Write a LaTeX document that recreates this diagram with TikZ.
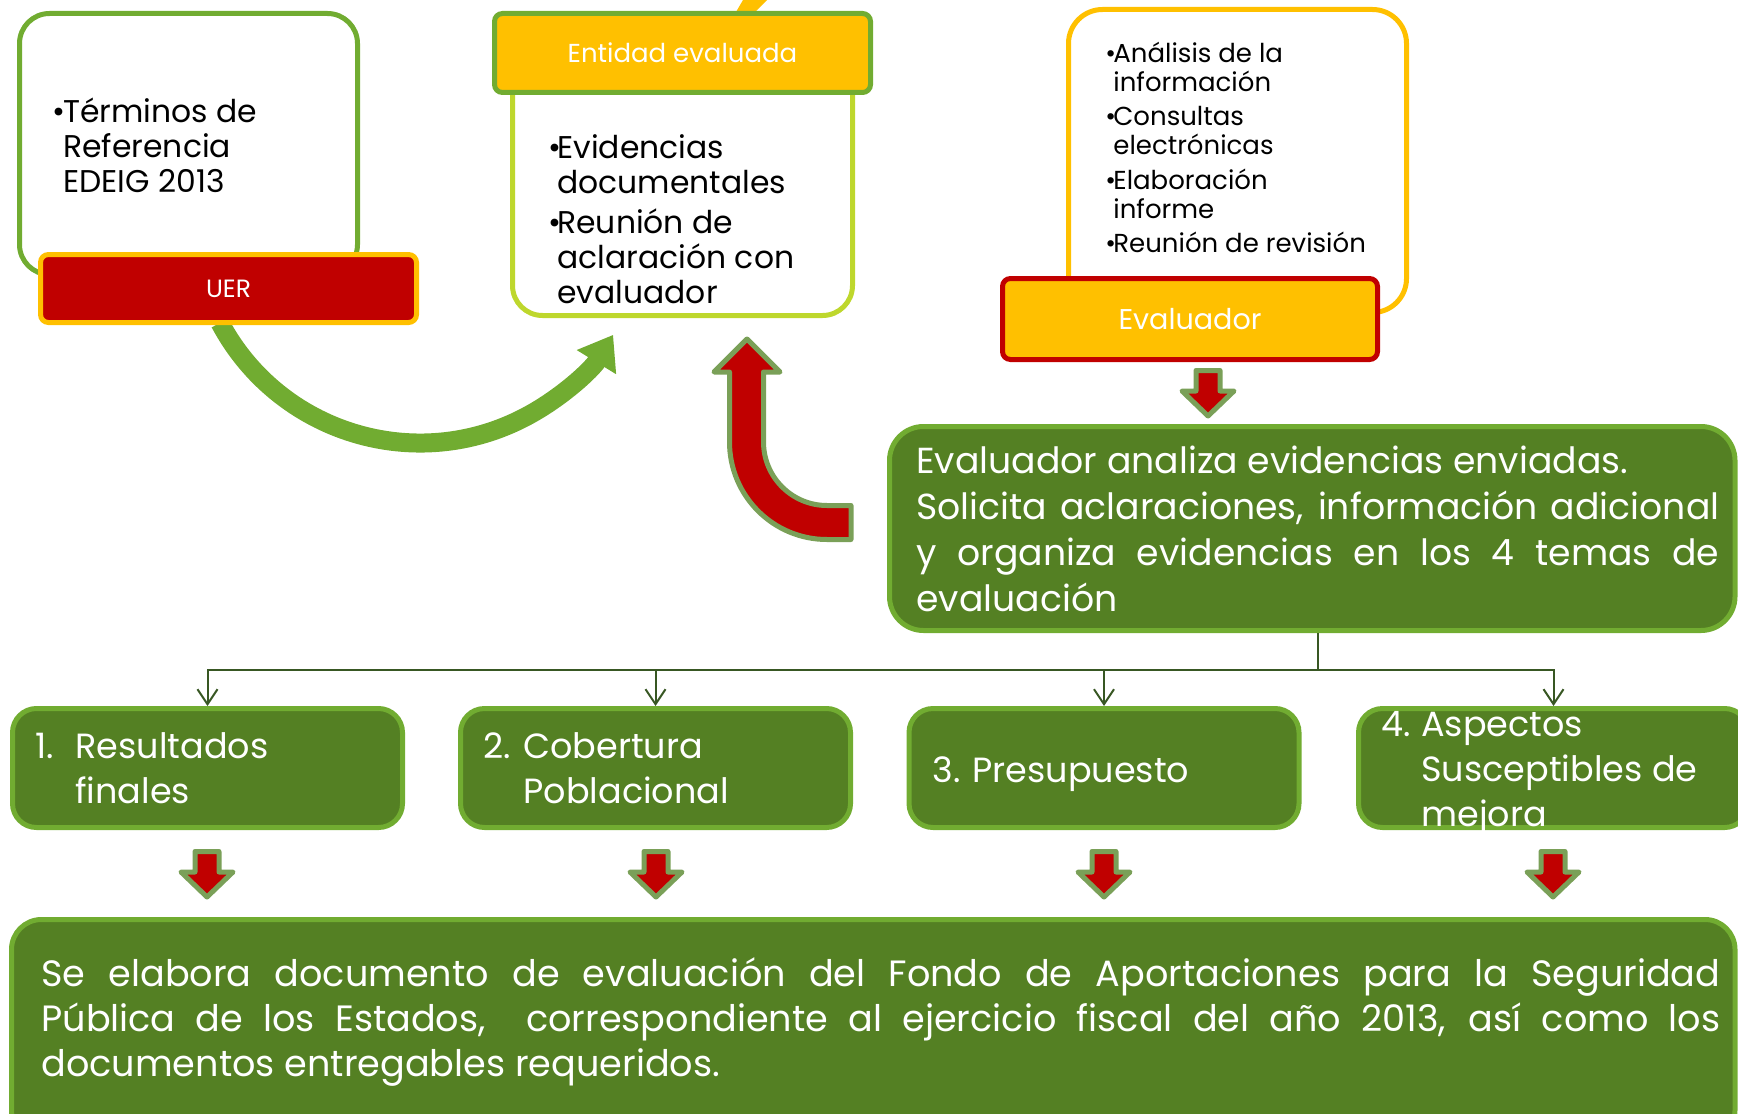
\documentclass[tikz,border=0pt]{standalone}
\usepackage{fontspec}
\setmainfont{Poppins}
\usetikzlibrary{arrows.meta}

\definecolor{lgreen}{RGB}{113,172,49}
\definecolor{dgreen}{RGB}{84,128,35}
\definecolor{ured}{RGB}{192,0,0}
\definecolor{uyellow}{RGB}{255,192,0}
\definecolor{lime}{RGB}{190,215,45}
\definecolor{arrline}{RGB}{122,160,88}
\definecolor{connline}{RGB}{56,87,35}

\hyphenpenalty=10000
\exhyphenpenalty=10000

\tikzset{
  whitebox/.style={draw, fill=white, line width=2.5pt, rounded corners=15pt, inner sep=0pt},
  tagbox/.style={draw, line width=2.5pt, rounded corners=4pt, text=white, inner sep=0pt},
  greenbox/.style={draw=lgreen, fill=dgreen, line width=2.5pt, rounded corners=17pt, inner sep=0pt},
  blockarrow/.style={fill=ured, draw=arrline, line width=2.5pt, line join=round},
  conn/.style={draw=connline, line width=1pt, -{Straight Barb[length=7.5pt,width=10pt]}},
  txt/.style={inner sep=0pt, anchor=base west},
  themetxt/.style={txt, text=white, font=\fontsize{17.5}{22.5}\selectfont}
}

\begin{document}
\begin{tikzpicture}[x=0.5pt,y=-0.5pt]
\useasboundingbox (0,0) rectangle (1738,1113);
\clip (0,0) rectangle (1738,1113);

% top row
\fill[uyellow] (743,0) -- (767,0) -- (755,12) -- (736,12) -- cycle;
\node[whitebox, draw=lgreen, minimum width=169pt, minimum height=130.5pt] (term) at (188.5,144) {};
\node[txt, font=\fontsize{15.7}{17.5}\selectfont] (term-t) at (52,122)
  {\begin{tabular}[t]{@{}p{5.5pt}@{}l@{}}\textbullet & Términos de\\ & Referencia\\ & EDEIG 2013\end{tabular}};
\draw[lgreen, line width=9.5pt, -{Triangle[length=16pt,width=22pt]}]
  (420,216.5) ++(152:226.5) arc[start angle=152, end angle=31.5, radius=226.5];
\node[tagbox, fill=ured, draw=uyellow, minimum width=188pt, minimum height=34pt,
  font=\fontsize{12.5}{14}\selectfont] (uer) at (228.5,288.5) {UER};

\node[whitebox, draw=lime, minimum width=170pt, minimum height=127.75pt] (ebody) at (682.5,187.75) {};
\node[tagbox, fill=uyellow, draw=lgreen, minimum width=188pt, minimum height=39.5pt,
  font=\fontsize{13}{15}\selectfont] (ehead) at (682.5,53) {Entidad evaluada};
\node[txt, font=\fontsize{15.7}{17.5}\selectfont] (ebody-t) at (548,158)
  {\begin{tabular}[t]{@{}p{4.5pt}@{}l@{}}\textbullet & Evidencias\\ & documentales\\[2.5pt]
   \textbullet & Reunión de\\ & aclaración con\\ & evaluador\end{tabular}};

\node[whitebox, draw=uyellow, rounded corners=17pt, minimum width=169pt, minimum height=151.5pt] (tasks) at (1237.5,161) {};
\node[txt, font=\fontsize{13}{14}\selectfont] (tasks-t) at (1105,63)
  {\begin{tabular}[t]{@{}p{4pt}@{}l@{}}\textbullet & Análisis de la\\ & información\\[3pt]
   \textbullet & Consultas\\ & electrónicas\\[3pt]
   \textbullet & Elaboración\\ & informe\\[3pt]
   \textbullet & Reunión de revisión\end{tabular}};
\node[tagbox, fill=uyellow, draw=ured, minimum width=187.5pt, minimum height=40.5pt,
  font=\fontsize{14.3}{16}\selectfont] (evhead) at (1190,319) {Evaluador};

% block arrows
\draw[blockarrow] (851,505.5) -- (827,505.5) arc[start angle=90, end angle=180, radius=63.5]
  -- (763.5,372) -- (780,372) -- (747,339) -- (714,372) -- (729.5,372) -- (729.5,442)
  arc[start angle=180, end angle=90, radius=97.5] -- (851,539.5) -- cycle;
\foreach \ax/\ay in {1208/368, 207/849, 656/849, 1104/849, 1553/849}
{
\draw[blockarrow] (\ax-12,\ay+2.5) -- (\ax+12,\ay+2.5) -- (\ax+12,\ay+23) -- (\ax+26,\ay+23)
  -- (\ax,\ay+48) -- (\ax-26,\ay+23) -- (\ax-12,\ay+23) -- cycle;
}

% analysis
\node[greenbox, minimum width=422.75pt, minimum height=102pt] (analiza) at (1312.25,528.5) {};
\node[txt, text=white, font=\fontsize{18.1}{23}\selectfont] (analiza-t) at (916,473)
  {\begin{tabular}[t]{@{}p{401.5pt}@{}}Evaluador analiza evidencias enviadas.\par
   Solicita aclaraciones, información adicional\linebreak y organiza evidencias en los 4 temas de\linebreak evaluación\end{tabular}};

% themes
\foreach \i/\cx in {1/207.5, 2/655.5, 3/1104, 4/1553.5}
{
\node[greenbox, rounded corners=12pt, minimum width=195pt, minimum height=59.5pt] (t\i) at (\cx,768) {};
}
\node[themetxt] (t1-t) at (35,758) {\begin{tabular}[t]{@{}p{20pt}@{}l@{}}1. & Resultados\\ & finales\end{tabular}};
\node[themetxt] (t2-t) at (483,758) {\begin{tabular}[t]{@{}p{20pt}@{}l@{}}2. & Cobertura\\ & Poblacional\end{tabular}};
\node[themetxt] (t3-t) at (932,782) {\begin{tabular}[t]{@{}p{20pt}@{}l@{}}3. & Presupuesto\end{tabular}};
\node[themetxt] (t4-t) at (1381,736) {\begin{tabular}[t]{@{}p{20pt}@{}l@{}}4. & Aspectos\\ & Susceptibles de\\ & mejora\end{tabular}};

\coordinate (split) at (1318,670);
\draw[connline, line width=1pt] (analiza.south -| split) -- (split);
\foreach \i in {1,...,4}
{
\draw[conn] (split) -| (t\i.north);
}

% result
\node[greenbox, rounded corners=15pt, minimum width=861.75pt, minimum height=110.25pt] (final) at (873.25,1029.75) {};
\node[txt, text=white, font=\fontsize{18.3}{22.5}\selectfont] (final-t) at (41,986)
  {\begin{tabular}[t]{@{}p{839.5pt}@{}}Se elabora documento de evaluación del Fondo de Aportaciones para la Seguridad\linebreak
   Pública de los Estados,~~correspondiente al ejercicio fiscal del año 2013, así como los\linebreak
   documentos entregables requeridos.\end{tabular}};
\end{tikzpicture}
\end{document}
